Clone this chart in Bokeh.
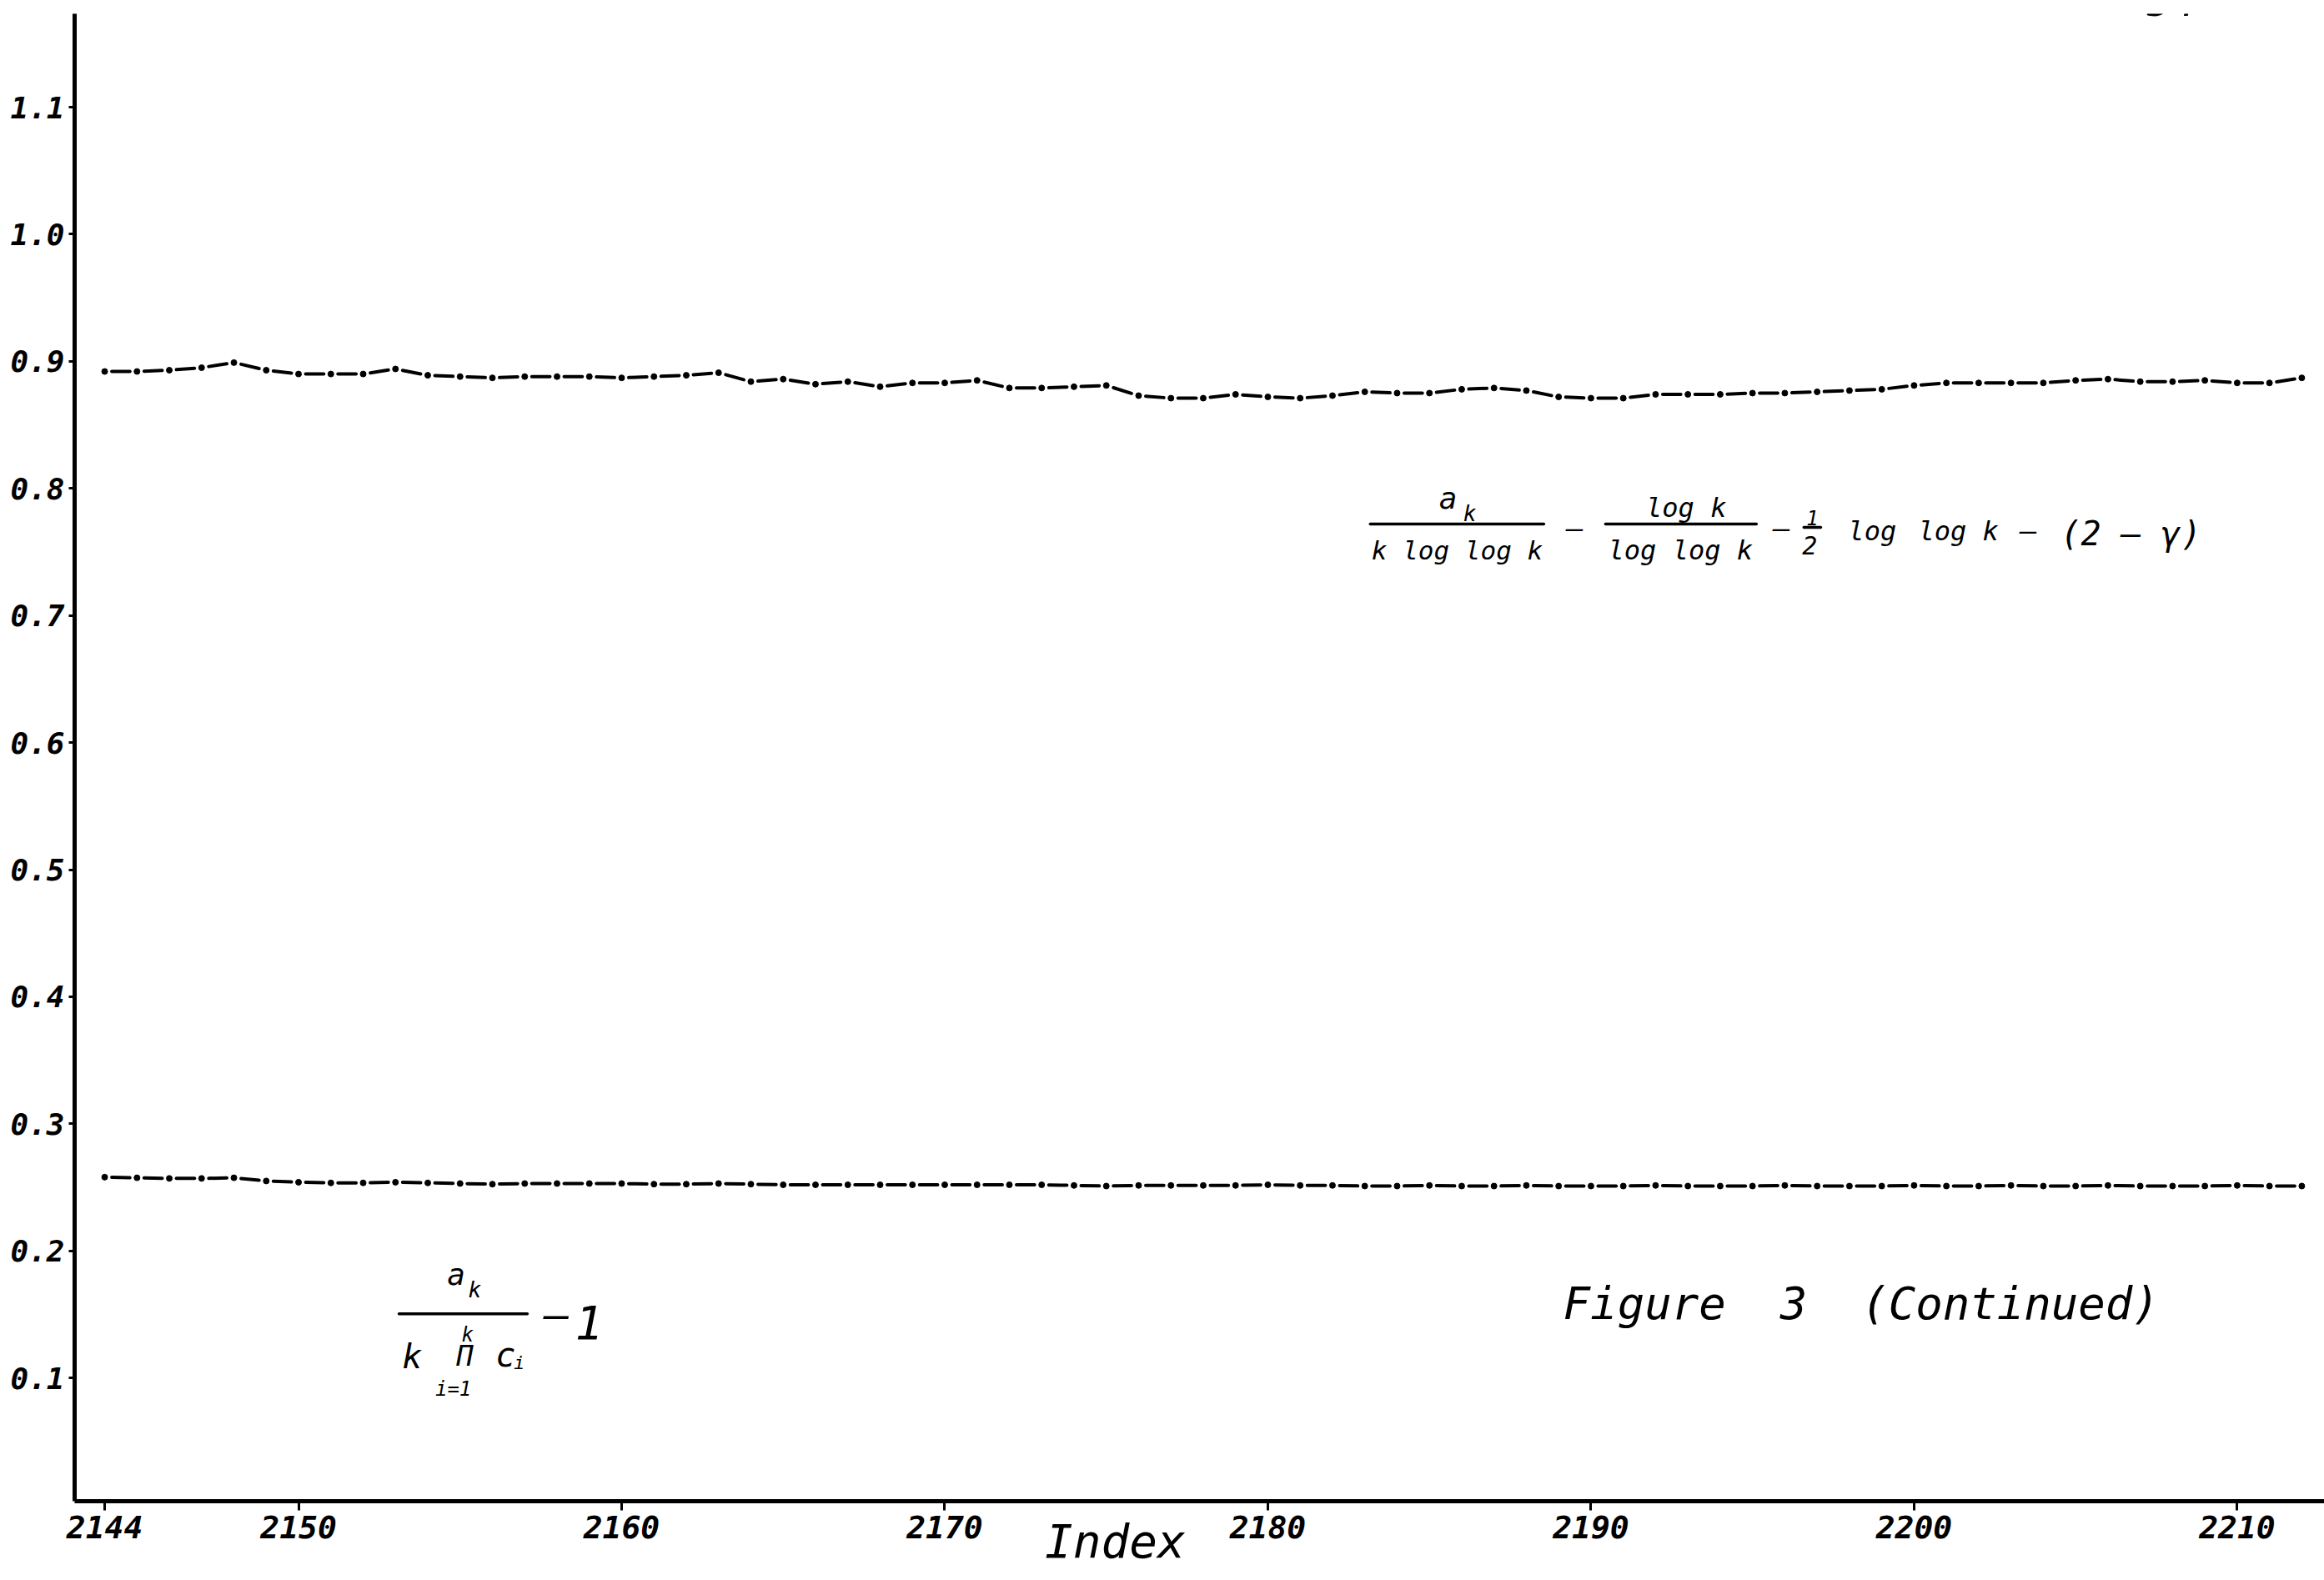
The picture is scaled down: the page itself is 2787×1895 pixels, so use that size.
from bokeh.plotting import figure
from bokeh.models import Range1d, FixedTicker, Label, ColumnDataSource
from bokeh.embed import file_html
from bokeh.resources import INLINE

# ---------------- data ----------------
index = list(range(2144, 2213))

upper = [0.892, 0.892, 0.893, 0.895, 0.899, 0.893, 0.890, 0.890, 0.890, 0.894,
         0.889, 0.888, 0.887, 0.888, 0.888, 0.888, 0.887, 0.888, 0.889, 0.891,
         0.884, 0.886, 0.882, 0.884, 0.880, 0.883, 0.883, 0.885, 0.879, 0.879,
         0.880, 0.881, 0.873, 0.871, 0.871, 0.874, 0.872, 0.871, 0.873, 0.876,
         0.875, 0.875, 0.878, 0.879, 0.877, 0.872, 0.871, 0.871, 0.874, 0.874,
         0.874, 0.875, 0.875, 0.876, 0.877, 0.878, 0.881, 0.883, 0.883, 0.883,
         0.883, 0.885, 0.886, 0.884, 0.884, 0.885, 0.883, 0.883, 0.887]

lower = [0.258, 0.2575, 0.257, 0.257, 0.2575, 0.255, 0.254, 0.2535, 0.2535, 0.254,
         0.2535, 0.253, 0.2525, 0.253, 0.253, 0.253, 0.253, 0.2525, 0.2525, 0.253,
         0.2525, 0.252, 0.252, 0.252, 0.252, 0.252, 0.252, 0.252, 0.252, 0.252,
         0.2515, 0.251, 0.2515, 0.2515, 0.2515, 0.2515, 0.252, 0.2515, 0.2515, 0.251,
         0.251, 0.2515, 0.251, 0.251, 0.2515, 0.251, 0.251, 0.251, 0.2515, 0.251,
         0.251, 0.251, 0.2515, 0.251, 0.251, 0.251, 0.2515, 0.251, 0.251, 0.2515,
         0.251, 0.251, 0.2515, 0.251, 0.251, 0.251, 0.2515, 0.251, 0.251]

x_ticks = [2144, 2150, 2160, 2170, 2180, 2190, 2200, 2210]
y_ticks = [0.1, 0.2, 0.3, 0.4, 0.5, 0.6, 0.7, 0.8, 0.9, 1.0, 1.1]
y_tick_labels = ["0.1", "0.2", "0.3", "0.4", "0.5", "0.6", "0.7", "0.8", "0.9", "1.0", "1.1"]
x_title = "Index"

FONT = "DejaVu Sans Mono"
Y_PER_PX = 1.0 / 1524.0   # data units per screen pixel on the y axis
NB = "\u00a0"

p = figure(width=2787, height=1895, output_backend="svg", toolbar_location=None,
           x_range=Range1d(2143.07, 2212.70), y_range=Range1d(0.003, 1.1735),
           min_border_left=89, min_border_right=0, min_border_top=16, min_border_bottom=95)
p.outline_line_color = None
p.grid.visible = False
p.background_fill_color = "white"
p.border_fill_color = "white"

for ax in (p.xaxis[0], p.yaxis[0]):
    ax.axis_line_width = 5
    ax.axis_line_color = "black"
    ax.major_tick_line_width = 3
    ax.major_tick_line_color = "black"
    ax.minor_tick_line_color = None
    ax.major_tick_in = 0
    ax.major_label_text_font = FONT
    ax.major_label_text_font_style = "bold italic"
    ax.major_label_text_color = "black"

p.xaxis.ticker = FixedTicker(ticks=x_ticks)
p.xaxis.major_tick_out = 11
p.xaxis.major_label_standoff = 6
p.xaxis.major_label_text_font_size = "38px"
# axis title: trailing no-break spaces move its centre left, to where the reference has it
p.xaxis.axis_label = x_title + NB * 6
p.xaxis.axis_label_text_font = FONT
p.xaxis.axis_label_text_font_style = "italic"
p.xaxis.axis_label_text_font_size = "56px"
p.xaxis.axis_label_text_color = "black"
p.xaxis.axis_label_standoff = -32

p.yaxis.ticker = FixedTicker(ticks=y_ticks)
p.yaxis.major_label_overrides = dict(zip(y_ticks, y_tick_labels))
p.yaxis.major_tick_out = 7
p.yaxis.major_label_standoff = 5
p.yaxis.major_label_text_font_size = "36px"


def dash_dot(xs, ys):
    g = 0.22
    x0 = [xs[i] + g for i in range(len(xs) - 1)]
    x1 = [xs[i + 1] - g for i in range(len(xs) - 1)]
    y0 = [ys[i] + (ys[i + 1] - ys[i]) * g for i in range(len(xs) - 1)]
    y1 = [ys[i + 1] - (ys[i + 1] - ys[i]) * g for i in range(len(xs) - 1)]
    p.segment(x0=x0, y0=y0, x1=x1, y1=y1, line_width=4, line_color="black", line_cap="round")
    p.scatter(x=xs, y=ys, size=7, color="black")


dash_dot(index, upper)
dash_dot(index, lower)

# fraction bars of the hand-written formulas
bars = ColumnDataSource(dict(x0=[2183.17, 2190.45, 2196.59, 2153.11],
                             x1=[2188.54, 2195.12, 2197.11, 2157.08],
                             y=[0.7719, 0.7719, 0.7693, 0.1505]))
p.segment(x0="x0", y0="y", x1="x1", y1="y", source=bars, line_width=3.5, line_color="black", line_cap="round")

notes = [
    ("a", 2185.30, 0.7857, 36, "left", "alphabetic"),
    ("k", 2186.05, 0.7755, 26, "left", "alphabetic"),
    ("k log log k", 2185.86, 0.7457, 31, "center", "alphabetic"),
    ("\u2013", 2189.50, 0.7693, 34, "center", "middle"),
    ("log k", 2192.95, 0.7791, 32, "center", "alphabetic"),
    ("log log k", 2192.77, 0.7457, 32, "center", "alphabetic"),
    ("\u2013", 2195.90, 0.7693, 34, "center", "middle"),
    ("1", 2196.85, 0.7726, 24, "center", "alphabetic"),
    ("2", 2196.77, 0.7496, 30, "center", "alphabetic"),
    ("log", 2197.96, 0.7608, 32, "left", "alphabetic"),
    ("log", 2200.13, 0.7608, 32, "left", "alphabetic"),
    ("k", 2202.12, 0.7608, 32, "left", "alphabetic"),
    ("\u2013", 2203.54, 0.7673, 34, "center", "middle"),
    ("(2 \u2013 \u03b3)", 2204.54, 0.7575, 40, "left", "alphabetic"),
    ("a", 2154.60, 0.1748, 36, "left", "alphabetic"),
    ("k", 2155.25, 0.1650, 26, "left", "alphabetic"),
    ("k", 2153.52, 0.1098, 40, "center", "alphabetic"),
    ("\u03a0", 2155.15, 0.1116, 34, "center", "alphabetic"),
    ("k", 2155.23, 0.1295, 24, "center", "alphabetic"),
    ("c", 2156.41, 0.1112, 40, "center", "alphabetic"),
    ("i", 2156.83, 0.1079, 22, "center", "alphabetic"),
    ("i=1", 2154.79, 0.0869, 24, "center", "alphabetic"),
    ("\u2013", 2157.99, 0.1499, 50, "center", "middle"),
    ("1", 2158.99, 0.1341, 56, "center", "alphabetic"),
    ("Figure" + NB * 2 + "3" + NB * 2 + "(Continued)", 2189.14, 0.1492, 54, "left", "alphabetic"),
    ("54", 2207.2, 1.1746, 50, "left", "alphabetic"),
]
for t, x, y, s, al, bl in notes:
    if bl == "alphabetic":
        # Label places the text bottom (incl. descent) at y: lift by the font descent
        y = y + 0.27 * s * Y_PER_PX
    p.add_layout(Label(x=x, y=y, text=t, text_font=FONT, text_font_style="italic",
                       text_font_size=f"{s}px", text_align=al, text_baseline=bl,
                       text_color="black"))

open("out.html", "w").write(file_html(p, INLINE))
